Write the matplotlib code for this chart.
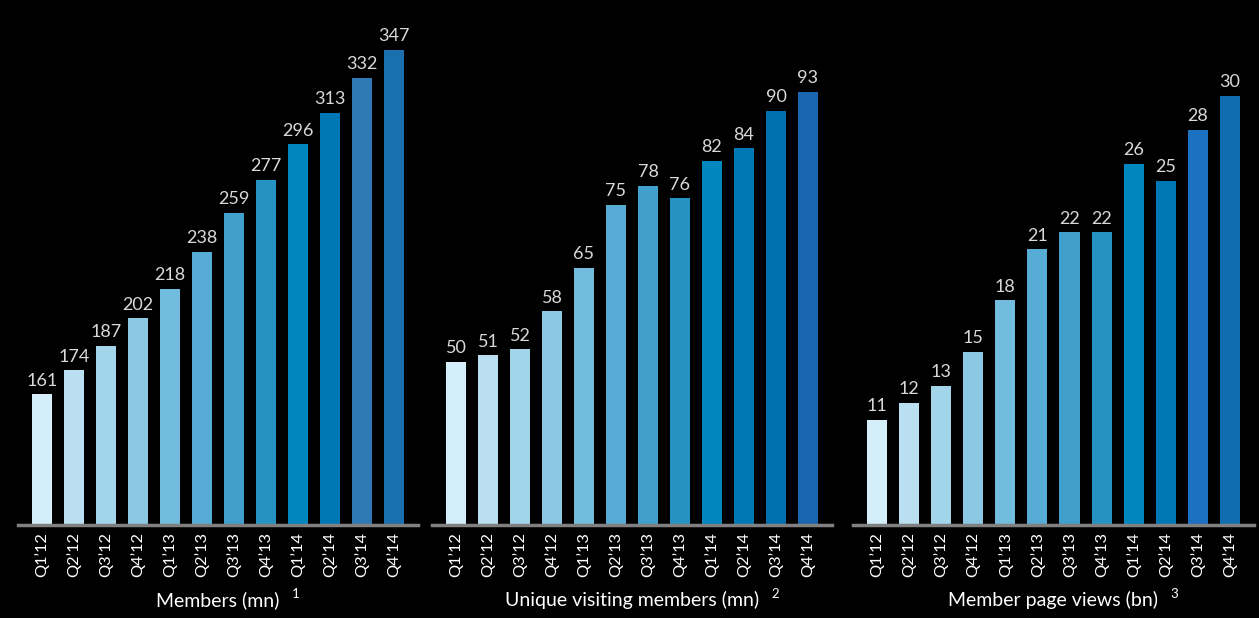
"""Three-panel member growth bar chart on black background."""

import matplotlib
matplotlib.use("Agg")
import matplotlib.pyplot as plt

plt.rcParams["font.family"] = ["Lato", "DejaVu Sans"]

QUARTERS = ["Q1’12", "Q2’12", "Q3’12", "Q4’12", "Q1’13", "Q2’13",
            "Q3’13", "Q4’13", "Q1’14", "Q2’14", "Q3’14", "Q4’14"]

members = [161, 174, 187, 202, 218, 238, 259, 277, 296, 313, 332, 347]
unique_visitors = [50, 51, 52, 58, 65, 75, 78, 76, 82, 84, 90, 93]
page_views = [11, 12, 13, 15, 18, 21, 22, 22, 26, 25, 28, 30]

titles = ["Members (mn)", "Unique visiting members (mn)", "Member page views (bn)"]
notes = ["1", "2", "3"]

base_colors = ["#d4eefa", "#b9dff0", "#a2d4ea", "#8ac8e4", "#72bcde", "#56acd4",
               "#40a0cb", "#2592c3", "#0087bf", "#0077b5"]
last_colors = [("#2e78b6", "#1a6fae"), ("#0070b0", "#1a65b0"), ("#1b70bf", "#0f6db0")]

# (left, width) in figure fraction and y range per panel
panels = [
    (members, (0.0143, 0.3177), (90.3, 374)),
    (unique_visitors, (0.3431, 0.3177), (24.0, 107.6)),
    (page_views, (0.6775, 0.3185), (4.84, 35.6)),
]

W, H = 1259, 618
fig = plt.figure(figsize=(W / 100, H / 100), dpi=100, facecolor="black")
bottom = 1 - 525 / H

axes = []
for i, (vals, (left, width), (y0, y1)) in enumerate(panels):
    ax = fig.add_axes([left, bottom, width, 1 - bottom])
    ax.set_facecolor("black")
    colors = base_colors + list(last_colors[i])
    x = range(len(vals))
    ax.bar(x, [v - y0 for v in vals], bottom=y0, width=0.625, color=colors, zorder=2)
    for xi, v in zip(x, vals):
        ax.annotate(str(v), (xi, v), xytext=(0, 4), textcoords="offset points",
                    ha="center", va="bottom", color="#d9d9d9", fontsize=13)
    ax.set_xlim(-0.75, len(vals) - 0.25)
    ax.set_ylim(y0, y1)
    ax.set_xticks(list(x))
    ax.set_xticklabels(QUARTERS, rotation=90, color="white", fontsize=11.8)
    ax.tick_params(axis="x", length=0, pad=5)
    ax.set_yticks([])
    for side in ("top", "right", "left"):
        ax.spines[side].set_visible(False)
    ax.spines["bottom"].set_color("#808080")
    ax.spines["bottom"].set_linewidth(2.5)
    ax.spines["bottom"].set_zorder(3)
    axes.append(ax)

fig.canvas.draw()
renderer = fig.canvas.get_renderer()
for ax, title, note in zip(axes, titles, notes):
    bb = ax.get_position()
    cx = (bb.x0 + bb.x1) / 2
    t = fig.text(cx, 1 - 600 / H, title, ha="center", va="center",
                 color="white", fontsize=14)
    ext = t.get_window_extent(renderer)
    fig.text((ext.x1 + 12) / W, 1 - 594 / H, note, ha="left", va="center",
             color="white", fontsize=9.5)

fig.savefig("out.png", dpi=100, facecolor="black")
